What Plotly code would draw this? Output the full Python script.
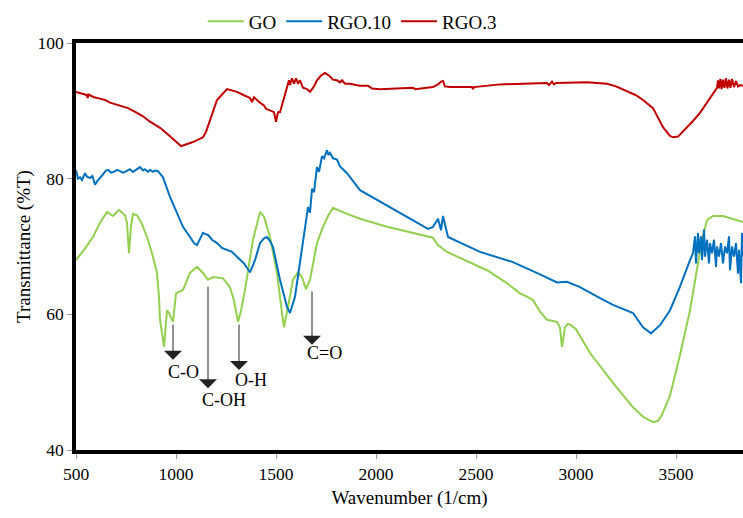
import plotly.graph_objects as go

# FTIR spectra: wavenumber (1/cm) vs transmittance (%T)
go_wn = [500, 540, 585, 620, 655, 685, 715, 745, 755, 765, 775, 785, 805, 830, 855, 880,
         905, 915, 920, 930, 940, 948, 955, 965, 975, 985, 1000, 1035, 1070, 1105, 1135,
         1160, 1185, 1235, 1270, 1290, 1310, 1325, 1345, 1385, 1420, 1440, 1470, 1505,
         1530, 1540, 1560, 1585, 1610, 1630, 1650, 1670, 1705, 1735, 1760, 1785, 1855,
         1920, 2055, 2285, 2300, 2310, 2355, 2520, 2555, 2655, 2720, 2755, 2785, 2820,
         2855, 2905, 2920, 2930, 2945, 2960, 2975, 3000, 3070, 3185, 3285, 3335, 3385,
         3410, 3430, 3470, 3520, 3570, 3605, 3630, 3655, 3685, 3735, 3785, 3835]
go_t = [68.0, 69.5, 71.4, 73.5, 75.1, 74.5, 75.4, 74.6, 73.5, 69.0, 73.0, 74.8, 74.6, 73.3,
        71.4, 69.0, 66.1, 62.5, 59.2, 57.0, 55.2, 58.0, 60.6, 60.2, 59.5, 58.9, 63.1, 63.6,
        66.1, 67.0, 66.1, 65.1, 65.5, 65.3, 64.0, 62.0, 58.9, 60.5, 63.6, 71.0, 75.1, 74.4,
        71.4, 66.1, 60.2, 58.1, 61.1, 65.1, 66.2, 65.5, 63.7, 65.1, 70.5, 72.9, 74.5, 75.7,
        74.8, 74.1, 72.9, 71.3, 70.6, 70.2, 69.2, 67.0, 66.5, 64.6, 63.1, 62.6, 62.1, 60.4,
        59.2, 58.9, 58.0, 55.2, 58.1, 58.6, 58.4, 57.8, 54.3, 49.9, 46.3, 44.9, 44.1, 44.3,
        45.2, 48.0, 54.0, 60.6, 67.0, 71.0, 73.9, 74.5, 74.5, 74.0, 73.6]

rgo10_wn = [500, 510, 520, 530, 545, 555, 570, 582, 595, 605, 620, 640, 650, 660, 675, 690,
            705, 720, 735, 745, 760, 770, 785, 795, 810, 820, 835, 845, 860, 870, 885, 895,
            910, 935, 970, 1005, 1035, 1070, 1090, 1105, 1120, 1135, 1150, 1160, 1180, 1205,
            1230, 1255, 1280, 1305, 1340, 1370, 1395, 1420, 1440, 1455, 1470, 1485, 1520,
            1555, 1570, 1595, 1630, 1645, 1660, 1670, 1680, 1690, 1705, 1715, 1730, 1740,
            1755, 1762, 1770, 1785, 1805, 1820, 1855, 1920, 2020, 2185, 2260, 2285, 2310,
            2320, 2325, 2335, 2360, 2520, 2685, 2820, 2905, 2955, 3020, 3120, 3185, 3285,
            3335, 3375, 3420, 3470, 3520, 3570, 3585, 3595, 3600, 3610, 3615, 3625, 3630,
            3640, 3645, 3655, 3665, 3670, 3680, 3690, 3700, 3705, 3715, 3725, 3735, 3745,
            3755, 3765, 3770, 3780, 3790, 3800, 3810, 3815, 3825, 3830, 3835]
rgo10_t = [81.3, 80.0, 80.2, 79.8, 80.8, 80.3, 80.1, 80.4, 79.1, 79.6, 80.1, 80.8, 81.2, 81.3,
           80.9, 81.0, 81.3, 81.1, 80.9, 81.0, 81.3, 81.4, 81.0, 81.2, 81.6, 81.7, 81.2, 81.4,
           81.0, 81.3, 81.0, 81.2, 81.1, 80.2, 77.3, 74.9, 72.9, 71.4, 70.5, 70.2, 71.0,
           72.0, 71.8, 71.7, 71.0, 70.5, 69.8, 69.5, 69.2, 68.5, 67.5, 66.2, 68.0, 70.5, 71.2,
           71.4, 70.8, 69.9, 65.1, 61.1, 60.2, 62.6, 69.5, 72.5, 75.8, 75.0, 78.5, 78.0, 81.7,
           81.0, 83.3, 83.0, 84.2, 83.5, 83.8, 83.0, 82.8, 81.8, 80.8, 78.3, 76.6, 73.9, 72.6,
           72.9, 74.1, 73.0, 72.4, 74.5, 71.4, 69.2, 67.7, 65.9, 64.7, 64.8, 64.0, 62.4, 61.4,
           60.2, 58.1, 57.2, 58.4, 60.6, 64.1, 68.0, 69.0, 71.5, 67.5, 72.0, 69.0, 71.5, 68.0,
           72.5, 68.5, 71.0, 67.5, 70.5, 69.0, 71.0, 67.0, 70.0, 68.5, 70.5, 67.5, 70.0, 69.0,
           71.5, 66.5, 70.0, 68.5, 70.5, 66.0, 69.5, 64.6, 72.0, 68.5]

rgo3_wn = [500, 530, 545, 555, 558, 562, 590, 620, 645, 670, 695, 720, 760, 805, 835, 870,
           920, 960, 995, 1015, 1025, 1045, 1085, 1135, 1150, 1170, 1205, 1255, 1305, 1340,
           1370, 1380, 1390, 1420, 1440, 1450, 1470, 1490, 1500, 1510, 1520, 1540, 1555,
           1565, 1570, 1580, 1590, 1600, 1610, 1620, 1635, 1655, 1670, 1690, 1705, 1725,
           1745, 1765, 1785, 1805, 1820, 1830, 1845, 1870, 1900, 1920, 1960, 1980, 2020,
           2185, 2195, 2285, 2310, 2325, 2335, 2345, 2370, 2480, 2485, 2490, 2620, 2700,
           2855, 2865, 2880, 2890, 2900, 3055, 3155, 3200, 3255, 3300, 3335, 3385, 3410,
           3435, 3470, 3485, 3510, 3530, 3555, 3585, 3620, 3640, 3670, 3690, 3705, 3710,
           3715, 3722, 3728, 3735, 3742, 3750, 3757, 3765, 3772, 3780, 3790, 3800, 3810,
           3820, 3835]
rgo3_t = [92.8, 92.6, 92.4, 92.3, 91.9, 92.4, 92.0, 91.8, 91.6, 91.2, 91.0, 90.7, 90.4, 89.7,
          89.2, 88.4, 87.5, 86.5, 85.6, 85.2, 84.8, 85.0, 85.4, 86.1, 86.9, 88.6, 91.6, 93.2,
          92.8, 92.3, 91.9, 91.3, 92.0, 91.2, 90.8, 90.3, 90.1, 89.8, 88.4, 89.8, 89.8, 92.0,
          93.5, 94.5, 93.8, 94.8, 94.0, 94.8, 94.0, 94.5, 93.4, 93.2, 92.8, 93.6, 94.5, 95.2,
          95.6, 95.2, 94.6, 94.5, 94.2, 94.5, 94.0, 94.0, 93.8, 93.7, 93.7, 93.3, 93.2, 93.4,
          93.2, 93.5, 93.9, 94.3, 94.4, 93.6, 93.5, 93.5, 93.2, 93.5, 93.9, 94.0, 94.1, 93.8,
          94.3, 93.9, 94.1, 94.2, 94.0, 93.6, 92.9, 92.3, 91.6, 90.4, 89.0, 87.6, 86.3, 86.1,
          86.2, 86.8, 87.6, 88.5, 89.7, 90.6, 92.0, 92.8, 93.4, 94.5, 93.3, 94.7, 93.2, 94.6,
          93.4, 94.8, 93.3, 94.6, 93.4, 94.7, 93.5, 94.4, 93.6, 93.8, 93.7]

series_names = ["GO", "RGO.10", "RGO.3"]
series_colors = ["#92D050", "#0070C0", "#C00000"]

# Functional-group labels: arrow tail/tip in %T and label position
peak_labels = ["C-O", "C-OH", "O-H", "C=O"]
peak_wn = [985, 1160, 1315, 1680]
arrow_tail = [58.7, 64.3, 58.7, 63.6]
arrow_tip = [53.3, 49.1, 51.8, 55.5]
label_wn = [1035, 1240, 1375, 1740]
label_t = [51.5, 47.4, 50.3, 54.3]

x_ticks = [500, 1000, 1500, 2000, 2500, 3000, 3500]
y_ticks = [40, 60, 80, 100]

FONT = "Liberation Serif, Times New Roman, serif"

fig = go.Figure()
for name, wn, t, col in zip(series_names, [go_wn, rgo10_wn, rgo3_wn],
                            [go_t, rgo10_t, rgo3_t], series_colors):
    fig.add_trace(go.Scatter(x=wn, y=t, mode="lines", name=name,
                             line=dict(color=col, width=2)))

annotations = []
for lab, wn, y0, y1, lx, ly in zip(peak_labels, peak_wn, arrow_tail, arrow_tip,
                                   label_wn, label_t):
    annotations.append(dict(x=wn, y=y1, ax=wn, ay=y0, xref="x", yref="y",
                            axref="x", ayref="y", text="", showarrow=True,
                            arrowhead=1, arrowsize=3, arrowwidth=1,
                            arrowcolor="#222222"))
    annotations.append(dict(x=lx, y=ly, xref="x", yref="y", text=lab,
                            showarrow=False, font=dict(family=FONT, size=18,
                                                       color="black")))

fig.update_layout(
    width=743, height=518,
    margin=dict(l=76, r=0, t=43, b=68),
    paper_bgcolor="white", plot_bgcolor="white",
    font=dict(family=FONT, size=17.5, color="black"),
    showlegend=True,
    legend=dict(orientation="h", x=0.19, xanchor="left", y=1.1, yanchor="top",
                font=dict(family=FONT, size=19), bgcolor="rgba(0,0,0,0)",
                itemwidth=36),
    annotations=annotations,
)
fig.update_xaxes(range=[500, 3835], tickvals=x_ticks, showgrid=False, zeroline=False,
                 showline=True, linecolor="black", linewidth=3.5, mirror=True,
                 ticks="outside", ticklen=5, tickcolor="#999999",
                 title=dict(text="Wavenumber (1/cm)", font=dict(size=19), standoff=9))
fig.update_yaxes(range=[40, 100], tickvals=y_ticks, showgrid=False, zeroline=False,
                 showline=True, linecolor="black", linewidth=3.5,
                 ticks="outside", ticklen=5, tickcolor="#999999",
                 title=dict(text="Transmittance (%T)", font=dict(size=19), standoff=3))

fig.write_html("out.html")
